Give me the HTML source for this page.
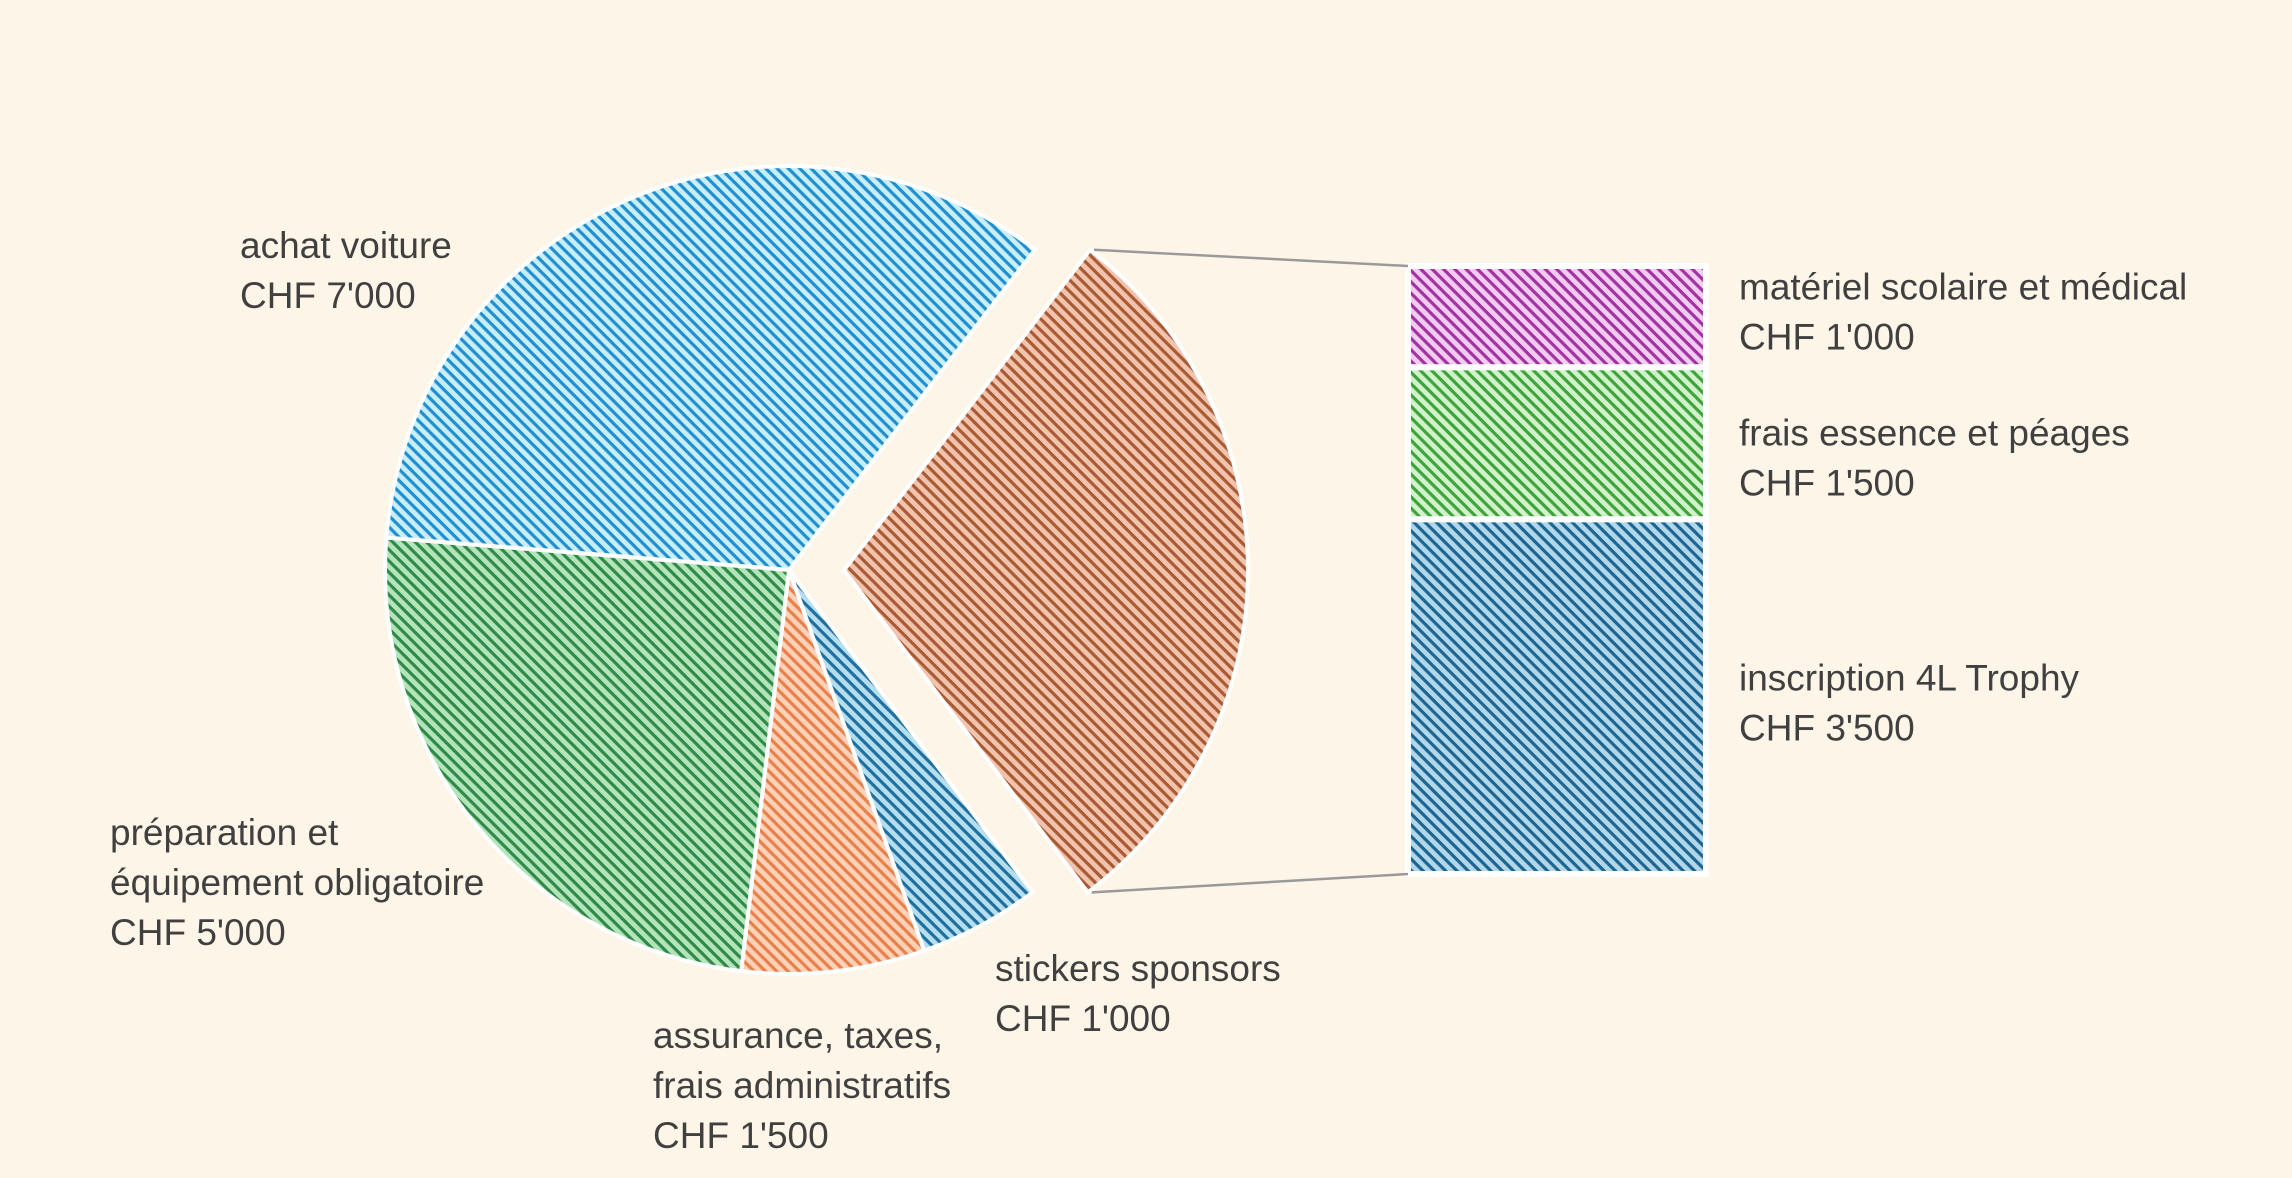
<!DOCTYPE html>
<html><head><meta charset="utf-8"><style>
html,body{margin:0;padding:0;background:#fdf6e8;}
svg{display:block;}
text{font-family:"Liberation Sans",sans-serif;font-size:37px;fill:#404040;}
</style></head><body>
<svg id="chart" width="2292" height="1178" viewBox="0 0 2292 1178" xmlns="http://www.w3.org/2000/svg">
<defs id="defs"></defs>
<rect width="2292" height="1178" fill="#fdf6e8"/>
<g id="pie"></g>
<g id="bar"></g>
<g id="labels"></g>
</svg>
<script>
const pieCategories = ["achat voiture", "autres", "stickers sponsors", "assurance, taxes, frais administratifs", "préparation et équipement obligatoire"];
const pieValues = [7000, 6000, 1000, 1500, 5000];
const pieLabels = [["achat voiture","CHF 7'000"], null, ["stickers sponsors","CHF 1'000"], ["assurance, taxes,","frais administratifs","CHF 1'500"], ["préparation et","équipement obligatoire","CHF 5'000"]];
const barCategories = ["matériel scolaire et médical", "frais essence et péages", "inscription 4L Trophy"];
const barValues = [1000, 1500, 3500];
const barLabels = [["matériel scolaire et médical","CHF 1'000"], ["frais essence et péages","CHF 1'500"], ["inscription 4L Trophy","CHF 3'500"]];

const NS = "http://www.w3.org/2000/svg";
const pieColors = [["#c8eefb","#1f8fcf"],["#f2c4ae","#a85a35"],["#b5def0","#1f6f9e"],["#fdd2b8","#e8804a"],["#b4e4bc","#2e8a46"]];
const barColors = [["#f3cdf1","#a232a2"],["#d2f2cc","#3da33a"],["#b0d8ea","#1d6590"]];
const defs = document.getElementById('defs');
function mkPattern(id, c){
  const p = document.createElementNS(NS,'pattern');
  p.setAttribute('id',id);p.setAttribute('width','8');p.setAttribute('height','8');
  p.setAttribute('patternUnits','userSpaceOnUse');p.setAttribute('patternTransform','rotate(45)');
  p.innerHTML = '<rect width="8" height="8" fill="'+c[0]+'"/><rect width="8" height="3.2" fill="'+c[1]+'"/>';
  defs.appendChild(p);
}
pieColors.forEach((c,i)=>mkPattern('pp'+i,c));
barColors.forEach((c,i)=>mkPattern('bp'+i,c));

const cx = 789, cy = 570, R = 404, startDeg = 184.6, explode = 55;
const total = pieValues.reduce((a,b)=>a+b,0);
function angScale(v){ return v/total*360; }
function pt(a, r, ox, oy){ const t=a*Math.PI/180; return [ox + r*Math.cos(t), oy + r*Math.sin(t)]; }
const pieG = document.getElementById('pie');
let a0 = startDeg;
let otherArc = null;
pieValues.forEach((v,i)=>{
  const a1 = a0 + angScale(v);
  const mid = (a0+a1)/2;
  let ox = cx, oy = cy;
  if (i===1){ const m = pt(mid, explode, 0, 0); ox += m[0]; oy += m[1]; }
  const p0 = pt(a0,R,ox,oy), p1 = pt(a1,R,ox,oy);
  const large = (a1-a0)>180?1:0;
  const path = document.createElementNS(NS,'path');
  path.setAttribute('d','M'+ox+','+oy+' L'+p0[0]+','+p0[1]+' A'+R+','+R+' 0 '+large+' 1 '+p1[0]+','+p1[1]+' Z');
  path.setAttribute('fill','url(#pp'+i+')');
  path.setAttribute('stroke','#ffffff');path.setAttribute('stroke-width','4');
  
  
  pieG.appendChild(path);
  if (i===1) otherArc = [p0,p1];
  a0 = a1;
});

const bx = 1408, bw = 298, by0 = 266, bh = 608;
const barTotal = barValues.reduce((a,b)=>a+b,0);
function yScale(v){ return v/barTotal*bh; }
const barG = document.getElementById('bar');
let y = by0;
const barMids = [];
barValues.forEach((v,i)=>{
  const h = yScale(v);
  const r = document.createElementNS(NS,'rect');
  r.setAttribute('x',bx);r.setAttribute('y',y);r.setAttribute('width',bw);r.setAttribute('height',h);
  r.setAttribute('fill','url(#bp'+i+')');r.setAttribute('stroke','#ffffff');r.setAttribute('stroke-width','6');
  
  
  barG.appendChild(r);
  barMids.push(y + h/2);
  y += h;
});
[[otherArc[0], [bx, by0]], [otherArc[1], [bx, by0+bh]]].forEach((s,k)=>{
  const l = document.createElementNS(NS,'line');
  l.setAttribute('x1',s[0][0]+4);l.setAttribute('y1',s[0][1]);l.setAttribute('x2',s[1][0]);l.setAttribute('y2',s[1][1]);
  l.setAttribute('stroke','#9a9a9a');l.setAttribute('stroke-width','2.5');
  
  
  barG.appendChild(l);
});

const labG = document.getElementById('labels');
function addLabel(lines, x, yFirst, name){
  const t = document.createElementNS(NS,'text');
  t.setAttribute('x',x);t.setAttribute('y',yFirst);
  
  
  lines.forEach((s,j)=>{
    const ts = document.createElementNS(NS,'tspan');
    ts.setAttribute('x',x);ts.setAttribute('y',yFirst + j*50);
    ts.textContent = s;
    t.appendChild(ts);
  });
  labG.appendChild(t);
}
const pieLabelPos = [[240,258],null,[995,981],[653,1048],[110,845]];
pieLabels.forEach((l,i)=>{ if(l) addLabel(l, pieLabelPos[i][0], pieLabelPos[i][1], 'pie-label-'+i); });
const barLabelDy = [-17, 2, -6];
barLabels.forEach((l,i)=>{ addLabel(l, 1739, barMids[i] + barLabelDy[i], 'bar-label-'+i); });
</script>
</body></html>
